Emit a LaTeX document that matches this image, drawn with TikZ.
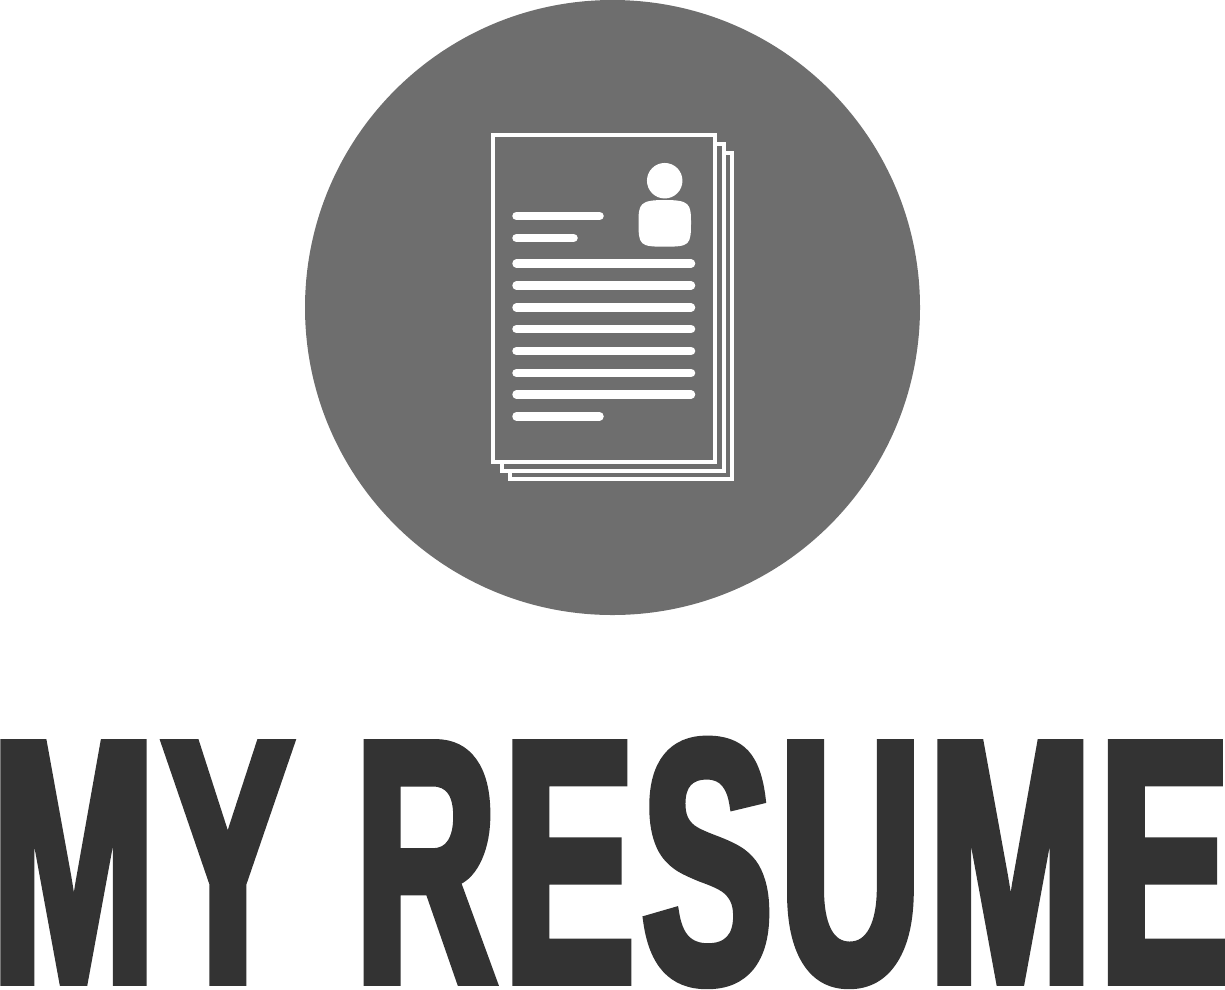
\documentclass[tikz,border=0pt]{standalone}
\usepackage{fontspec}
\newfontfamily\posterfont[FakeStretch=0.568,FakeBold=2.5,LetterSpace=2]{Liberation Sans Bold}
\definecolor{discgray}{HTML}{6E6E6E}
\definecolor{titlegray}{HTML}{333333}
\tikzset{
	x=1pt, y=-1pt,
	sheet/.style={draw=white, line width=4pt, fill=discgray},
	textline/.style={draw=white, line width=8.5pt, line cap=round},
	titleletter/.style={inner sep=0pt, text=titlegray, font=\posterfont\fontsize{346}{346}\selectfont},
}
\begin{document}
\begin{tikzpicture}
	\useasboundingbox (0,0) rectangle (1225,989);
	\node [circle, fill=discgray, minimum size=615pt, inner sep=0pt] (disc) at (612.5,307.5) {};

	% paper stack
	\draw [sheet] (510,153) rectangle (732,479);
	\draw [sheet] (501.5,144) rectangle (723.5,470.5);
	\draw [sheet] (493,135) rectangle (715,462);

	% portrait
	\node [circle, fill=white, minimum size=35.5pt, inner sep=0pt] (head) at (664.7,180.7) {};
	\fill [white] (638.5,222) .. controls (638.5,204) and (640,200) .. (664.7,200)
		.. controls (689.5,200) and (691,204) .. (691,222)
		.. controls (691,245) and (690,246.7) .. (664.7,246.7)
		.. controls (639.5,246.7) and (638.5,245) .. (638.5,222) -- cycle;

	% text lines
	\draw [textline] (516.5,216) -- (599.5,216);
	\draw [textline] (516.5,238) -- (573.5,238);
	\foreach \y in {263.5,285.5,307.5,329,351,373,394.5}
		\draw [textline] (516.5,\y) -- (691,\y);
	\draw [textline] (516.5,416.3) -- (599.5,416.3);

	\node [titleletter, anchor=base west] (title) at (0,981.5) {\kern-8.5pt MY RESUME\kern-10pt};
\end{tikzpicture}
\end{document}
